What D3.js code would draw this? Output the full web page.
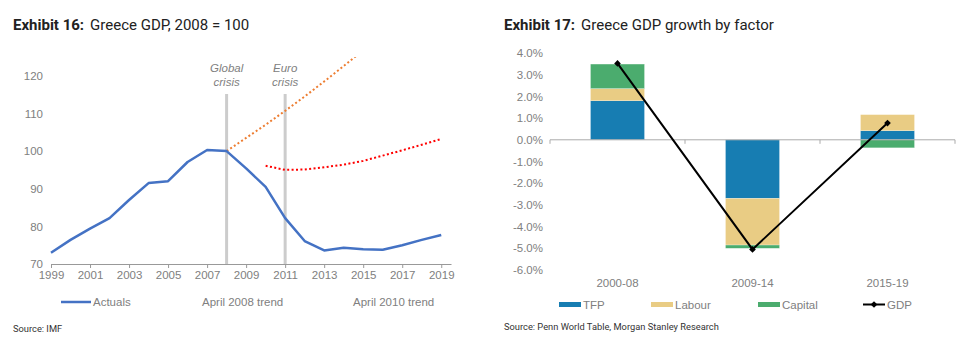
<!DOCTYPE html>
<html>
    <head>
        <meta charset="utf-8">
        <script type="text/javascript" src="https://cdn.jsdelivr.net/npm/d3@7"></script>
        <style type="text/css">
            body { margin: 0; background: white; }
            text { font-family: "Liberation Sans", Arial, sans-serif; font-size: 11.5px; fill: #808080; }
            .title { font-family: Roboto, sans-serif; font-size: 15px; fill: #222; }
            .source { font-family: Roboto, sans-serif; font-size: 9.3px; fill: #333; }
            .axis text { font-family: "Liberation Sans", Arial, sans-serif; font-size: 11.5px; fill: #808080; }
        </style>
    </head>
    <body>
        <script type="text/javascript">

            // ---- Exhibit 16 data ----
            var years = d3.range(1999, 2020);
            var actuals = [73.0, 76.4, 79.4, 82.2, 87.0, 91.5, 92.0, 97.1, 100.3, 100.0, 95.4, 90.5, 82.2, 76.1, 73.6, 74.3, 73.9, 73.8, 75.0, 76.4, 77.7];
            var trend08Years = [2008, 2009, 2010, 2011, 2012, 2013, 2014, 2015];
            var trend08 = [100, 103.5, 107.0, 110.7, 114.5, 118.5, 122.6, 126.8];
            var trend10Years = [2010, 2011, 2012, 2013, 2014, 2015, 2016, 2017, 2018, 2019];
            var trend10 = [96.1, 95.0, 95.1, 95.7, 96.4, 97.4, 98.8, 100.2, 101.7, 103.2];
            var crisisYears = [2008, 2011];
            var crisisLabels = [["Global", "crisis"], ["Euro", "crisis"]];
            var leftYTicks = [70, 80, 90, 100, 110, 120];
            var leftXTicks = d3.range(1999, 2020, 2);

            // ---- Exhibit 17 data ----
            var periods = ["2000-08", "2009-14", "2015-19"];
            var tfp = [1.8, -2.7, 0.42];
            var labour = [0.56, -2.15, 0.74];
            var capital = [1.13, -0.15, -0.37];
            var gdp = [3.52, -5.05, 0.77];
            var rightYTicks = [4, 3, 2, 1, 0, -1, -2, -3, -4, -5, -6];

            var svg = d3.select("body").append("svg")
                        .attr("width", 969)
                        .attr("height", 350);

            // ================= Exhibit 16 =================
            var t1 = svg.append("text").attr("class", "title").attr("x", 13).attr("y", 30);
            t1.append("tspan").attr("font-weight", "bold").text("Exhibit 16:");
            t1.append("tspan").attr("dx", 6).text("Greece GDP, 2008 = 100");

            var x1 = d3.scaleLinear().domain([1999, 2019.5]).range([51, 451]);
            var y1 = d3.scaleLinear().domain([70, 125]).range([264, 57]);

            svg.append("defs").append("clipPath").attr("id", "clipL")
               .append("rect").attr("x", 40).attr("y", y1(125)).attr("width", 420).attr("height", y1(70) - y1(125));

            // y labels
            svg.append("g").attr("class", "axis")
               .attr("transform", "translate(43,0)")
               .call(d3.axisLeft(y1).tickValues(leftYTicks).tickSize(0).tickPadding(0))
               .call(function(g) { g.select(".domain").remove(); });

            // x axis
            var xAx = svg.append("g").attr("class", "axis")
               .attr("transform", "translate(0," + y1(70) + ")")
               .call(d3.axisBottom(x1).tickValues(leftXTicks).tickFormat(d3.format("d")).tickSize(4).tickPadding(3).tickSizeOuter(0));
            xAx.select(".domain").attr("stroke", "#999");
            xAx.selectAll(".tick line").attr("stroke", "#999");

            // crisis bars
            svg.selectAll("rect.crisis").data(crisisYears).enter().append("rect")
               .attr("class", "crisis")
               .attr("x", function(d) { return x1(d) - 1.5; })
               .attr("y", 94)
               .attr("width", 3)
               .attr("height", function() { return y1(70) - 94; })
               .attr("fill", "#cccccc");

            crisisYears.forEach(function(yr, i) {
                crisisLabels[i].forEach(function(s, j) {
                    svg.append("text")
                       .attr("x", x1(yr))
                       .attr("y", 72 + j * 14)
                       .attr("text-anchor", "middle")
                       .attr("font-style", "italic")
                       .attr("fill", "#999")
                       .text(s);
                });
            });

            var line1 = d3.line().x(function(d) { return x1(d[0]); }).y(function(d) { return y1(d[1]); });

            svg.append("path")
               .datum(d3.zip(trend08Years, trend08))
               .attr("clip-path", "url(#clipL)")
               .attr("d", line1)
               .attr("fill", "none")
               .attr("stroke", "#ed7d31")
               .attr("stroke-width", 2)
               .attr("stroke-dasharray", "2,2.4");

            svg.append("path")
               .datum(d3.zip(trend10Years, trend10))
               .attr("d", line1)
               .attr("fill", "none")
               .attr("stroke", "#ff0000")
               .attr("stroke-width", 2)
               .attr("stroke-dasharray", "2,2.4");

            svg.append("path")
               .datum(d3.zip(years, actuals))
               .attr("d", line1)
               .attr("fill", "none")
               .attr("stroke", "#4472c4")
               .attr("stroke-width", 2.5)
               .attr("stroke-linejoin", "round");

            // legend
            svg.append("line").attr("x1", 61).attr("x2", 91).attr("y1", 302).attr("y2", 302)
               .attr("stroke", "#4472c4").attr("stroke-width", 2.5);
            svg.append("text").attr("x", 93).attr("y", 306).text("Actuals");
            svg.append("text").attr("x", 202).attr("y", 306).text("April 2008 trend");
            svg.append("text").attr("x", 353).attr("y", 306).text("April 2010 trend");

            svg.append("text").attr("class", "source").attr("x", 13).attr("y", 332).text("Source: IMF");

            // ================= Exhibit 17 =================
            var t2 = svg.append("text").attr("class", "title").attr("x", 504).attr("y", 30);
            t2.append("tspan").attr("font-weight", "bold").text("Exhibit 17:");
            t2.append("tspan").attr("dx", 6).text("Greece GDP growth by factor");

            var x2 = d3.scaleBand().domain(periods).range([550, 955]).padding(0);
            var y2 = d3.scaleLinear().domain([-6, 4]).range([270, 53]);
            var barW = x2.bandwidth() * 0.4;

            // plain hyphen for negatives, as in the original
            var pct = function(d) { return d.toFixed(1) + "%"; };

            svg.append("g").attr("class", "axis")
               .attr("transform", "translate(543,0)")
               .call(d3.axisLeft(y2).tickValues(rightYTicks).tickFormat(pct).tickSize(0).tickPadding(0))
               .call(function(g) { g.select(".domain").remove(); });

            var rows = periods.map(function(p, i) {
                return { period: p, TFP: tfp[i], Labour: labour[i], Capital: capital[i] };
            });
            var keys = ["TFP", "Labour", "Capital"];
            var colors = { TFP: "#177db2", Labour: "#e9cc84", Capital: "#4bac6e" };
            var stacked = d3.stack().keys(keys).offset(d3.stackOffsetDiverging)(rows);

            svg.selectAll("g.layer").data(stacked).enter().append("g")
               .attr("class", "layer")
               .attr("fill", function(d) { return colors[d.key]; })
               .selectAll("rect").data(function(d) { return d; }).enter().append("rect")
               .attr("x", function(d) { return x2(d.data.period) + (x2.bandwidth() - barW) / 2; })
               .attr("y", function(d) { return y2(Math.max(d[0], d[1])); })
               .attr("width", barW)
               .attr("height", function(d) { return Math.abs(y2(d[0]) - y2(d[1])); })
               .attr("stroke", "#ffffff")
               .attr("stroke-opacity", 0.5)
               .attr("stroke-width", 0.5);

            // zero axis with category boundary ticks
            svg.append("line").attr("x1", 550).attr("x2", 955).attr("y1", y2(0)).attr("y2", y2(0))
               .attr("stroke", "#aaa").attr("stroke-width", 1);
            svg.selectAll("line.bt").data(periods.concat(["end"])).enter().append("line")
               .attr("class", "bt")
               .attr("x1", function(d, i) { return 550 + i * x2.bandwidth(); })
               .attr("x2", function(d, i) { return 550 + i * x2.bandwidth(); })
               .attr("y1", y2(0)).attr("y2", y2(0) + 4)
               .attr("stroke", "#aaa");

            // category labels at bottom
            svg.selectAll("text.cat").data(periods).enter().append("text")
               .attr("class", "cat")
               .attr("x", function(d) { return x2(d) + x2.bandwidth() / 2; })
               .attr("y", 287)
               .attr("text-anchor", "middle")
               .text(function(d) { return d; });

            // GDP line
            var line2 = d3.line()
                .x(function(d, i) { return x2(periods[i]) + x2.bandwidth() / 2; })
                .y(function(d) { return y2(d); });
            svg.append("path").datum(gdp).attr("d", line2)
               .attr("fill", "none").attr("stroke", "#000").attr("stroke-width", 2);
            var diamond = d3.symbol().type(d3.symbolSquare).size(22);
            svg.selectAll("path.mk").data(gdp).enter().append("path")
               .attr("class", "mk")
               .attr("d", diamond)
               .attr("transform", function(d, i) { return "translate(" + (x2(periods[i]) + x2.bandwidth() / 2) + "," + y2(d) + ") rotate(45)"; })
               .attr("fill", "#000");

            // legend
            var leg = [
                { key: "TFP", x: 559 },
                { key: "Labour", x: 651 },
                { key: "Capital", x: 758 }
            ];
            leg.forEach(function(l) {
                svg.append("rect").attr("x", l.x).attr("y", 302).attr("width", 22).attr("height", 5).attr("fill", colors[l.key]);
                svg.append("text").attr("x", l.x + 24).attr("y", 309).text(l.key);
            });
            svg.append("line").attr("x1", 863).attr("x2", 885).attr("y1", 304.5).attr("y2", 304.5)
               .attr("stroke", "#000").attr("stroke-width", 2);
            svg.append("path").attr("d", diamond).attr("transform", "translate(874,304.5) rotate(45)").attr("fill", "#000");
            svg.append("text").attr("x", 887).attr("y", 309).text("GDP");

            svg.append("text").attr("class", "source").attr("x", 504).attr("y", 330)
               .text("Source: Penn World Table, Morgan Stanley Research");

        </script>
    </body>
</html>
